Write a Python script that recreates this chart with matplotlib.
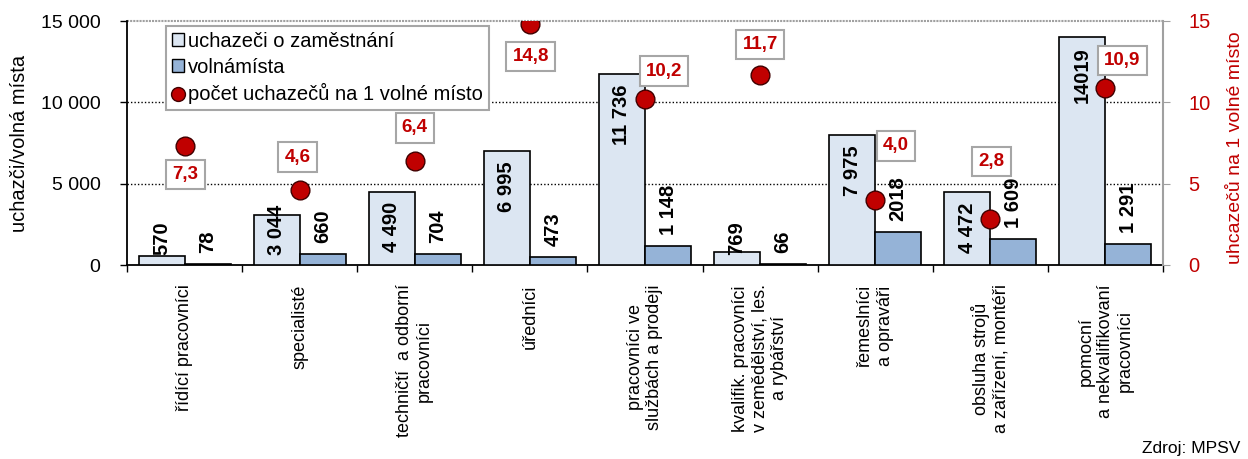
import matplotlib
matplotlib.use('Agg')  # no display
import numpy as np
import matplotlib.pyplot as plt
from matplotlib.ticker import FuncFormatter, FixedLocator
from matplotlib.patches import Patch
from matplotlib.lines import Line2D

plt.rcParams['font.family'] = ['Liberation Sans', 'DejaVu Sans']

# data
categories = [
    "řídící pracovníci",
    "specialisté",
    "techničtí  a odborní\npracovníci",
    "úředníci",
    "pracovníci ve\nslužbách a prodeji",
    "kvalifik. pracovníci\nv zemědělství, les.\na rybářství",
    "řemeslníci\na opraváři",
    "obsluha strojů\na zařízení, montéři",
    "pomocní\na nekvalifikovaní\npracovníci",
]
uchazeci = [570, 3044, 4490, 6995, 11736, 769, 7975, 4472, 14019]
volna_mista = [78, 660, 704, 473, 1148, 66, 2018, 1609, 1291]
na_misto = [7.3, 4.6, 6.4, 14.8, 10.2, 11.7, 4.0, 2.8, 10.9]
uchazeci_labels = ["570", "3 044", "4 490", "6 995", "11 736", "769", "7 975", "4 472", "14019"]
volna_labels = ["78", "660", "704", "473", "1 148", "66", "2018", "1 609", "1 291"]

# where the red boxes sit relative to their dots (pixels)
box_offsets = [(1, -28), (-2, 33), (0, 33), (1, -32), (19, 28), (0, 30), (21, 54), (1, 58), (17, 27)]

light = '#DCE6F2'
dark = '#95B3D7'
red = '#C00000'

fig = plt.figure(figsize=(12.48, 4.59), dpi=100)
ax = fig.add_axes([127 / 1248, 1 - 265 / 459, (1163 - 127) / 1248, (265 - 21) / 459])
ax2 = ax.twinx()

x = np.arange(len(categories))
w = 0.4
ax.bar(x - w / 2, uchazeci, w, color=light, edgecolor='black', linewidth=1.2, zorder=3)
ax.bar(x + w / 2, volna_mista, w, color=dark, edgecolor='black', linewidth=1.2, zorder=3)

ax.set_xlim(-0.5, len(categories) - 0.5)
ax.set_ylim(0, 15000)
ax.set_yticks([0, 5000, 10000, 15000])
ax.yaxis.set_major_formatter(FuncFormatter(lambda v, p: f"{int(v):,}".replace(',', ' ')))
ax.tick_params(axis='y', labelsize=14, length=5, width=1, pad=14)
fig.text(20 / 1248, 1 - 143 / 459, "uchazči/volná místa", rotation=90,
         ha='center', va='center', fontsize=14.5)

ax.set_xticks(x)
ax.set_xticklabels(categories, rotation=90, fontsize=13, va='top', ha='center',
                   multialignment='center')
ax.tick_params(axis='x', which='major', length=0, pad=14)
ax.xaxis.set_minor_locator(FixedLocator(np.arange(-0.5, len(categories), 1.0)))
ax.tick_params(axis='x', which='minor', length=5, width=1)

for s in ['top', 'right']:
    ax.spines[s].set_visible(False)
ax.spines['left'].set_linewidth(1.3)
ax.spines['bottom'].set_linewidth(1.3)

for gy in [5000, 10000]:
    ax.axhline(gy, color='black', linestyle=(0, (1, 1.5)), linewidth=1, zorder=1)
ax.axhline(15000, color='#A0A0A0', linestyle=(0, (1, 0.5)), linewidth=1.5, zorder=1, clip_on=False)

# ratio on right axis
ax2.set_ylim(0, 15)
ax2.set_yticks([0, 5, 10, 15])
ax2.tick_params(axis='y', colors='#A0A0A0', labelcolor=red, labelsize=14.5, length=5, pad=13)
for s in ['top', 'left', 'bottom']:
    ax2.spines[s].set_visible(False)
ax2.spines['right'].set_color('#A0A0A0')
ax2.spines['right'].set_linewidth(1.5)
fig.text(1236 / 1248, 1 - 148 / 459, "uhcazečů na 1 volné místo", rotation=90,
         ha='center', va='center', fontsize=14, color=red)

ax2.plot(x, na_misto, linestyle='none', marker='o', markersize=13.5,
         markerfacecolor=red, markeredgecolor='#400000', markeredgewidth=1, zorder=5)

for xi, v, (dx, dy) in zip(x, na_misto, box_offsets):
    ax2.annotate(f"{v:.1f}".replace('.', ','), (xi, v), xytext=(dx, dy),
                 textcoords='offset pixels', ha='center', va='center',
                 fontsize=13.5, fontweight='bold', color=red, zorder=6,
                 bbox=dict(boxstyle='square,pad=0.33', facecolor='white',
                           edgecolor='#A6A6A6', linewidth=1.5))

# bar value labels
fig.canvas.draw()
renderer = fig.canvas.get_renderer()
base_px = ax.transData.transform((0, 0))[1]
for xi, v, lab in zip(x, uchazeci, uchazeci_labels):
    t = ax.annotate(lab, (xi - w / 2, v), xytext=(0, -10), textcoords='offset pixels',
                    rotation=90, ha='center', va='top', fontsize=14.5,
                    fontweight='bold', zorder=4)
    bb = t.get_window_extent(renderer)
    if bb.y0 < base_px + 9:
        t.remove()
        ax.annotate(lab, (xi - w / 2, 0), xytext=(0, 10), textcoords='offset pixels',
                    rotation=90, ha='center', va='bottom', fontsize=14.5,
                    fontweight='bold', zorder=4)
for xi, v, lab in zip(x, volna_mista, volna_labels):
    ax.annotate(lab, (xi + w / 2, v), xytext=(0, 11), textcoords='offset pixels',
                rotation=90, ha='center', va='bottom', fontsize=14.5,
                fontweight='bold', zorder=4)

handles = [
    Patch(facecolor=light, edgecolor='black', linewidth=1),
    Patch(facecolor=dark, edgecolor='black', linewidth=1),
    Line2D([], [], linestyle='none', marker='o', markersize=10,
           markerfacecolor=red, markeredgecolor='#400000'),
]
leg = ax2.legend(handles, ["uchazeči o zaměstnání", "volnámísta", "počet uchazečů na 1 volné místo"],
                 loc='upper left', bbox_to_anchor=(0.0376, 0.98), borderaxespad=0,
                 fontsize=14.5, handlelength=0.6, handleheight=0.6, handletextpad=0.2,
                 labelspacing=0.33, borderpad=0.3, fancybox=False, framealpha=1,
                 edgecolor='#A6A6A6')
leg.get_frame().set_linewidth(1.5)
leg.set_zorder(7)

fig.text(1240 / 1248, 1 - 448 / 459, "Zdroj: MPSV", ha='right', va='center', fontsize=12.5)

fig.savefig('out.png', dpi=100)
